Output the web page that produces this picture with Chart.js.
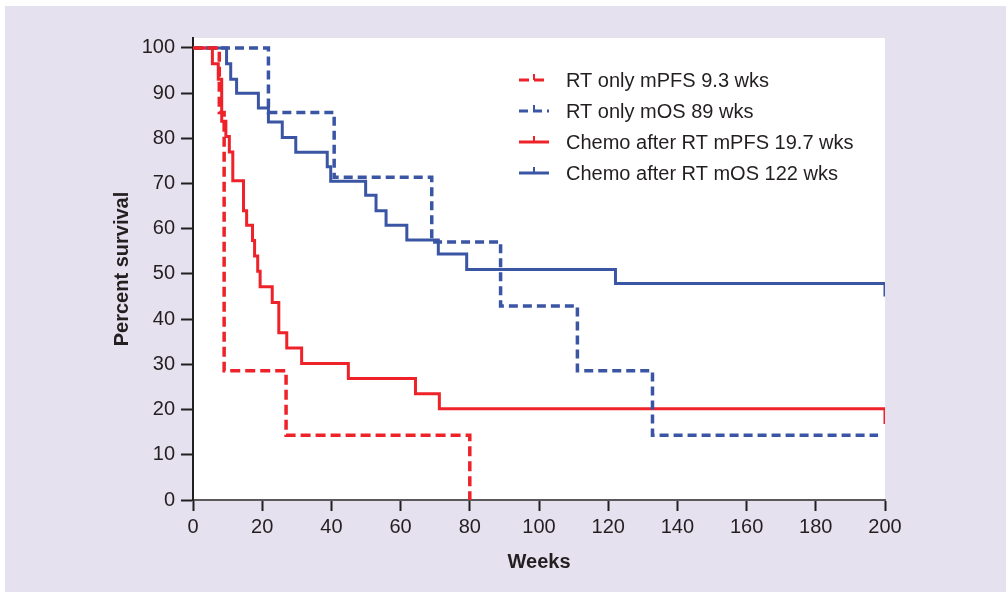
<!DOCTYPE html>
<html>
<head>
<meta charset="utf-8">
<script src="https://cdn.jsdelivr.net/npm/chart.js@4.4.1/dist/chart.umd.min.js"></script>
<style>
  html, body { margin: 0; padding: 0; background: #fff; }
  canvas { display: block; }
</style>
</head>
<body>
<canvas id="kmChart" width="1006" height="592"></canvas>
<script>
// Kaplan-Meier curves (weeks, percent survival)
const rtPfsWeeks = [0, 7.6, 9.0, 26.9, 80];
const rtPfsSurv = [100, 85.7, 28.6, 14.3, 0];

const rtOsWeeks = [0, 21.8, 40.8, 69.0, 88.9, 111.1, 132.8, 198];
const rtOsSurv = [100, 85.7, 71.4, 57.1, 42.9, 28.6, 14.3, 14.3];

const chemoPfsWeeks = [0, 5.6, 7.3, 8.3, 9.5, 10.5, 11.5, 14.6, 15.5, 17.2, 17.8, 18.7, 19.4, 22.9, 24.8, 27.1, 31.4, 44.9, 64.3, 71.2, 200];
const chemoPfsSurv = [100, 96.5, 93.1, 83.8, 80.4, 77.0, 70.6, 64.0, 60.8, 57.4, 54.0, 50.6, 47.2, 43.7, 37.0, 33.6, 30.2, 26.9, 23.5, 20.2, 16.8];

const chemoOsWeeks = [0, 9.7, 10.9, 12.6, 18.9, 21.8, 25.8, 29.7, 38.8, 39.8, 49.9, 52.9, 55.8, 61.8, 70.9, 79.1, 122.1, 200];
const chemoOsSurv = [100, 96.5, 93.1, 90.0, 86.7, 83.6, 80.2, 76.9, 73.7, 70.5, 67.4, 64.0, 60.8, 57.5, 54.4, 51.0, 47.9, 45.0];

const seriesLabels = ['RT only mPFS 9.3 wks', 'RT only mOS 89 wks', 'Chemo after RT mPFS 19.7 wks', 'Chemo after RT mOS 122 wks'];
const xTicks = [0, 20, 40, 60, 80, 100, 120, 140, 160, 180, 200];
const yTicks = [0, 10, 20, 30, 40, 50, 60, 70, 80, 90, 100];

const RED = '#ee2229';
const BLUE = '#3a55a4';
const INK = '#231f20';
const FONT = '"Liberation Sans", Arial, Helvetica, sans-serif';

function toPoints(xs, ys) {
    return xs.map((x, i) => ({ x: x, y: ys[i] }));
}

// lavender panel + white plot area
const backdrop = {
    id: 'backdrop',
    beforeDraw(chart) {
        const { ctx, chartArea } = chart;
        ctx.save();
        ctx.fillStyle = '#ffffff';
        ctx.fillRect(0, 0, chart.width, chart.height);
        ctx.fillStyle = '#e6e1ef';
        ctx.fillRect(5, 6, chart.width - 5, chart.height - 6);
        ctx.fillStyle = '#ffffff';
        ctx.fillRect(chartArea.left, chartArea.top, chartArea.right - chartArea.left, chartArea.bottom - chartArea.top);
        ctx.restore();
    }
};

// legend sitting inside the plot, top right
const innerLegend = {
    id: 'innerLegend',
    afterDatasetsDraw(chart) {
        const { ctx } = chart;
        const x0 = 519, len = 30, textX = 566;
        const rows = [80, 111, 142, 173];
        ctx.save();
        ctx.font = '20px ' + FONT;
        ctx.textBaseline = 'middle';
        chart.data.datasets.forEach((ds, i) => {
            const y = rows[i];
            ctx.strokeStyle = ds.borderColor;
            ctx.lineWidth = 3;
            ctx.setLineDash(ds.borderDash || []);
            ctx.beginPath();
            ctx.moveTo(x0, y);
            ctx.lineTo(x0 + len, y);
            ctx.stroke();
            ctx.setLineDash([]);
            ctx.lineWidth = 2;
            ctx.beginPath();
            ctx.moveTo(x0 + len / 2, y);
            ctx.lineTo(x0 + len / 2, y - 6);
            ctx.stroke();
            ctx.fillStyle = INK;
            ctx.fillText(ds.label, textX, y + 1);
        });
        ctx.restore();
    }
};

new Chart(document.getElementById('kmChart'), {
    type: 'line',
    data: {
        datasets: [
            { label: seriesLabels[0], data: toPoints(rtPfsWeeks, rtPfsSurv), borderColor: RED, borderWidth: 3.5, borderDash: [10, 5] },
            { label: seriesLabels[1], data: toPoints(rtOsWeeks, rtOsSurv), borderColor: BLUE, borderWidth: 3.5, borderDash: [9, 5] },
            { label: seriesLabels[2], data: toPoints(chemoPfsWeeks, chemoPfsSurv), borderColor: RED, borderWidth: 3 },
            { label: seriesLabels[3], data: toPoints(chemoOsWeeks, chemoOsSurv), borderColor: BLUE, borderWidth: 3 }
        ].map(ds => Object.assign(ds, { stepped: 'before', pointRadius: 0, fill: false, tension: 0 }))
    },
    options: {
        responsive: false,
        animation: false,
        devicePixelRatio: 1,
        layout: { padding: { left: 0, right: 121, top: 38, bottom: 0 } },
        plugins: {
            legend: { display: false },
            tooltip: { enabled: false }
        },
        scales: {
            x: {
                type: 'linear',
                min: 0,
                max: 200,
                afterFit: s => { s.height = 92; },
                afterBuildTicks: s => { s.ticks = xTicks.map(v => ({ value: v })); },
                grid: { drawOnChartArea: false, drawTicks: true, tickLength: 11, tickColor: INK, tickWidth: 2 },
                border: { color: '#5a5a5d', width: 2 },
                ticks: { color: INK, font: { family: FONT, size: 20 }, padding: 4, maxRotation: 0 },
                title: { display: true, text: 'Weeks', color: INK, font: { family: FONT, size: 20, weight: 'bold' }, padding: { top: 0, bottom: 18 } }
            },
            y: {
                min: 0,
                max: 102.2,
                afterFit: s => { s.width = 193; },
                afterBuildTicks: s => { s.ticks = yTicks.map(v => ({ value: v })); },
                grid: { drawOnChartArea: false, drawTicks: true, tickLength: 12, tickColor: INK, tickWidth: 2 },
                border: { color: INK, width: 2 },
                ticks: { color: INK, font: { family: FONT, size: 20 }, padding: 6 },
                title: { display: true, text: 'Percent survival', color: INK, font: { family: FONT, size: 20, weight: 'bold' }, padding: { top: 110, bottom: 0 } }
            }
        }
    },
    plugins: [backdrop, innerLegend]
});
</script>
</body>
</html>
